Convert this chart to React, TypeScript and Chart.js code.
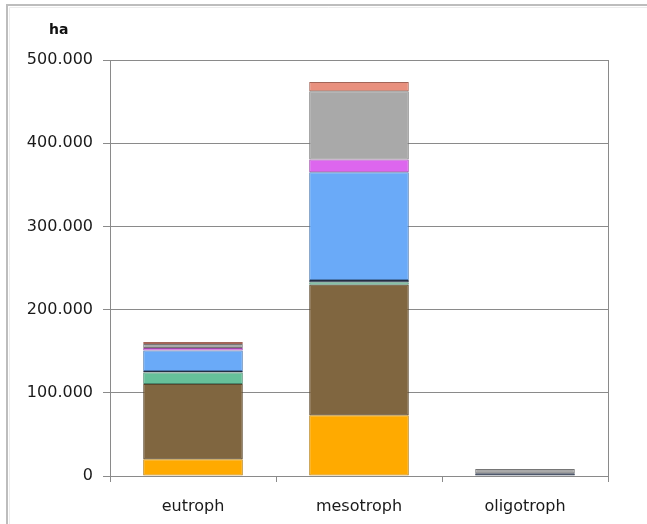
import React, { useEffect, useRef } from "react";
import { Chart, registerables } from "chart.js";

Chart.register(...registerables);

const categories = ["eutroph", "mesotroph", "oligotroph"];

const seriesOrange = [20000, 73000, 0];
const seriesBrown = [90500, 157000, 0];
const seriesGreen = [14000, 3000, 0];
const seriesNavy = [1800, 2500, 3200];
const seriesBlue = [24500, 129500, 0];
const seriesMagenta = [3000, 15500, 0];
const seriesGray = [4800, 82000, 5200];
const seriesSalmon = [2600, 11000, 0];

const yTicks = [0, 100000, 200000, 300000, 400000, 500000];

const fmt = (v: number) => {
  const s = Math.round(v).toString();
  return s.replace(/\B(?=(\d{3})+(?!\d))/g, ".");
};

const FONT = "'DejaVu Sans', Arial, sans-serif";

export default function App() {
  const ref = useRef<HTMLCanvasElement | null>(null);

  useEffect(() => {
    document.body.style.margin = "0";
    const canvas = ref.current;
    if (!canvas) return;

    const mk = (label: string, data: number[], color: string, edge: string) => ({
      label,
      data,
      backgroundColor: color,
      borderColor: edge,
      borderWidth: 1,
      borderSkipped: false as const,
      barPercentage: 0.6,
      categoryPercentage: 1,
    });

    const framePlugin = {
      id: "frame",
      beforeDraw(chart: any) {
        const ctx = chart.ctx;
        ctx.save();
        ctx.fillStyle = "#ffffff";
        ctx.fillRect(0, 0, chart.width, chart.height);
        ctx.strokeStyle = "#bdbdbd";
        ctx.lineWidth = 2;
        ctx.beginPath();
        ctx.moveTo(7, chart.height);
        ctx.lineTo(7, 5);
        ctx.lineTo(chart.width, 5);
        ctx.stroke();
        ctx.strokeStyle = "#ececec";
        ctx.lineWidth = 1;
        ctx.beginPath();
        ctx.moveTo(9.5, chart.height);
        ctx.lineTo(9.5, 7.5);
        ctx.lineTo(chart.width, 7.5);
        ctx.stroke();
        // "ha" unit label
        ctx.fillStyle = "#111";
        ctx.font = `bold 14px ${FONT}`;
        ctx.textBaseline = "middle";
        ctx.textAlign = "left";
        ctx.fillText("ha", 49, 30);
        ctx.restore();
      },
      afterDraw(chart: any) {
        const ctx = chart.ctx;
        const a = chart.chartArea;
        ctx.save();
        ctx.strokeStyle = "#8a8a8a";
        ctx.lineWidth = 1;
        ctx.beginPath();
        ctx.moveTo(Math.round(a.right) + 0.5, a.top);
        ctx.lineTo(Math.round(a.right) + 0.5, a.bottom);
        ctx.stroke();
        ctx.restore();
      },
    };

    const chart = new Chart(canvas, {
      type: "bar",
      data: {
        labels: categories,
        datasets: [
          mk("orange", seriesOrange, "#ffaa00", "#b37700"),
          mk("brown", seriesBrown, "#806640", "#5a472d"),
          mk("green", seriesGreen, "#66c09a", "#47866c"),
          mk("navy", seriesNavy, "#33405e", "#232d42"),
          mk("blue", seriesBlue, "#6aaaf8", "#4a77ae"),
          mk("magenta", seriesMagenta, "#dd66ee", "#9b47a7"),
          mk("gray", seriesGray, "#a9a9a9", "#767676"),
          mk("salmon", seriesSalmon, "#e8907e", "#a26558"),
        ],
      },
      options: {
        responsive: false,
        animation: false,
        layout: { padding: { left: 0, top: 60, right: 39, bottom: 0 } },
        plugins: {
          legend: { display: false },
          tooltip: { enabled: false },
          title: { display: false },
        },
        scales: {
          x: {
            stacked: true,
            grid: {
              display: true,
              offset: true,
              drawOnChartArea: false,
              drawTicks: true,
              tickLength: 6,
              color: "#8a8a8a",
            },
            border: { display: true, color: "#8a8a8a" },
            ticks: {
              color: "#1a1a1a",
              font: { family: FONT, size: 16 },
              padding: 15,
            },
            afterFit: (s: any) => {
              s.height = 48;
            },
          },
          y: {
            stacked: true,
            min: 0,
            max: 500000,
            afterBuildTicks: (s: any) => {
              s.ticks = yTicks.map((v) => ({ value: v }));
            },
            grid: {
              color: "#8a8a8a",
              tickLength: 7,
              drawTicks: true,
            },
            border: { display: true, color: "#8a8a8a" },
            ticks: {
              color: "#1a1a1a",
              font: { family: FONT, size: 16 },
              padding: 10,
              callback: (v: any) => fmt(Number(v)),
            },
            afterFit: (s: any) => {
              s.width = 110;
            },
          },
        },
      },
      plugins: [framePlugin],
    });

    return () => chart.destroy();
  }, []);

  return (
    <div style={{ width: 647, height: 524, position: "relative" }}>
      <canvas ref={ref} width={647} height={524} style={{ width: 647, height: 524, display: "block" }} />
    </div>
  );
}
